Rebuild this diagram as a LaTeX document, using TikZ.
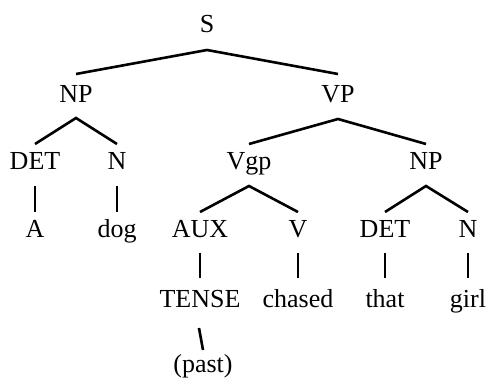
\documentclass[tikz,border=0pt]{standalone}
\usepackage{fontspec}
\setmainfont{Liberation Serif}
\begin{document}
\begin{tikzpicture}[x=1pt,y=-1pt,
  lbl/.style={anchor=base,inner sep=0pt,font=\fontsize{26}{29}\selectfont},
  edge/.style={line width=2.6pt,line cap=butt}]
\useasboundingbox (0,0) rectangle (488,379);
% level 0
\node[lbl] (S) at (207,33) {S};
% level 1
\node[lbl] (NP) at (76,103) {NP};
\node[lbl] (VP) at (338,103) {VP};
% level 2
\node[lbl] (DET) at (35,170) {DET};
\node[lbl] (N) at (117,170) {N};
\node[lbl] (Vgp) at (249,170) {Vgp};
\node[lbl] (NPb) at (426,170) {NP};
% level 3
\node[lbl] (A) at (35,238) {A};
\node[lbl] (dog) at (117,238) {dog};
\node[lbl] (AUX) at (200,238) {AUX};
\node[lbl] (V) at (298,238) {V};
\node[lbl] (DETb) at (385,238) {DET};
\node[lbl] (Nb) at (468,238) {N};
% level 4
\node[lbl] (TENSE) at (200,308) {TENSE};
\node[lbl] (chased) at (298,308) {chased};
\node[lbl] (that) at (385,308) {that};
\node[lbl] (girl) at (468,308) {girl};
% level 5
\node[lbl] (past) at (203,373) {(past)};
% edges
\draw[edge] ([yshift=29pt]NP.base) -- ([yshift=-17pt]S.base) -- ([yshift=29pt]VP.base);
\draw[edge] ([yshift=26pt]DET.base) -- ([yshift=-15pt]NP.base) -- ([yshift=26pt]N.base);
\draw[edge] ([yshift=26pt]Vgp.base) -- ([yshift=-16pt]VP.base) -- ([yshift=26pt]NPb.base);
\draw[edge] ([yshift=-16pt]DET.base) -- ([yshift=26pt]A.base);
\draw[edge] ([yshift=-16pt]N.base) -- ([yshift=26pt]dog.base);
\draw[edge] ([yshift=26pt]AUX.base) -- ([yshift=-16pt]Vgp.base) -- ([yshift=26pt]V.base);
\draw[edge] ([yshift=26pt]DETb.base) -- ([yshift=-16pt]NPb.base) -- ([yshift=26pt]Nb.base);
\draw[edge] ([yshift=-15pt]AUX.base) -- ([yshift=30pt]TENSE.base);
\draw[edge] ([yshift=-15pt]V.base) -- ([yshift=30pt]chased.base);
\draw[edge] ([yshift=-15pt]DETb.base) -- ([yshift=30pt]that.base);
\draw[edge] ([yshift=-15pt]Nb.base) -- ([yshift=30pt]girl.base);
\draw[edge] ([xshift=-1pt,yshift=-20pt]TENSE.base) -- ([yshift=23pt]past.base);
\end{tikzpicture}
\end{document}
